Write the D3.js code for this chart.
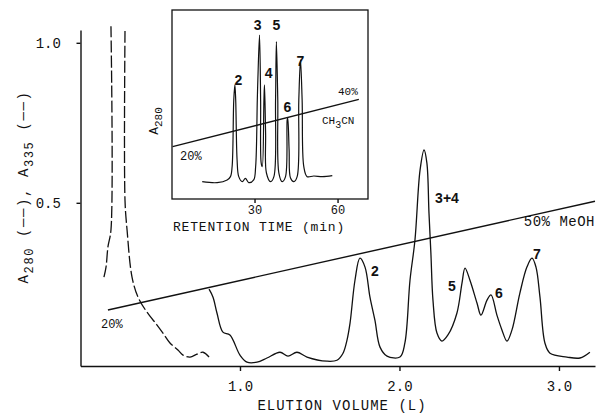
<!DOCTYPE html>
<html>
<head>
<meta charset="utf-8">
<script src="https://cdn.jsdelivr.net/npm/d3@7"></script>
<style>
  body { margin: 0; background: #fff; }
  svg { display: block; }
  .mono { font-family: 'Liberation Mono', 'DejaVu Sans Mono', monospace; fill: #111; }
  .peak { font-family: 'Liberation Sans', Arial, sans-serif; font-weight: bold; fill: #111; }
  .axis path, .axis line { stroke: #111; stroke-width: 1.4; }
</style>
</head>
<body>
<svg width="599" height="415"></svg>
<script>
// Main chromatogram, A280 (solid) - elution volume (L) vs absorbance
const a280Vol = [0.806, 0.831, 0.856, 0.893, 0.937, 1.0, 1.044, 1.107, 1.169, 1.251, 1.301, 1.357, 1.42, 1.545,
  1.608, 1.646, 1.671, 1.69, 1.721, 1.752, 1.784, 1.815, 1.846, 1.878, 1.922, 2.003, 2.034, 2.066, 2.097,
  2.129, 2.154, 2.172, 2.185, 2.197, 2.21, 2.235, 2.266, 2.304, 2.36, 2.392, 2.411, 2.442, 2.486, 2.511,
  2.549, 2.574, 2.611, 2.643, 2.674, 2.705, 2.755, 2.799, 2.831, 2.856, 2.881, 2.912, 2.944, 3.05, 3.132, 3.194];
const a280Abs = [0.23, 0.205, 0.155, 0.096, 0.087, 0.024, 0.002, 0.002, 0.015, 0.033, 0.021, 0.033, 0.018, 0.005,
  0.008, 0.03, 0.071, 0.124, 0.258, 0.327, 0.299, 0.205, 0.133, 0.049, 0.021, 0.018, 0.062, 0.258, 0.383,
  0.602, 0.665, 0.624, 0.468, 0.343, 0.196, 0.093, 0.068, 0.087, 0.155, 0.249, 0.296, 0.258, 0.187, 0.149,
  0.196, 0.212, 0.149, 0.102, 0.068, 0.102, 0.218, 0.299, 0.327, 0.299, 0.205, 0.062, 0.03, 0.018, 0.015, 0.033];

// A335 (dashed), goes off scale; null = break at the top
const a335Vol = [0.147, 0.16, 0.172, 0.191, 0.191, null, 0.279, 0.279, 0.292, 0.323, 0.361, 0.417, 0.48, 0.517,
  0.561, 0.611, 0.643, 0.687, 0.73, 0.768, 0.806];
const a335Abs = [0.268, 0.299, 0.362, 0.415, 1.052, null, 1.037, 0.508, 0.415, 0.268, 0.205, 0.158, 0.118, 0.093,
  0.062, 0.04, 0.024, 0.018, 0.027, 0.033, 0.018];

// MeOH gradient line (20% -> 50%)
const gradVol = [0.172, 3.226];
const gradLevel = [0.165, 0.505];

const peakNames = ['2', '3+4', '5', '6', '7'];
const peakVol = [1.846, 2.298, 2.329, 2.624, 2.862];
const peakLevel = [0.271, 0.499, 0.224, 0.202, 0.324];

const xTicks = [1.0, 2.0, 3.0];
const yTicks = [0.5, 1.0];

// Inset HPLC trace - retention time (min)
const hplcTime = [11.1, 16.5, 20.1, 21.3, 21.9, 22.5, 22.9, 23.2, 23.7, 24.3, 25.6, 26.7, 27.9, 29.7, 30.4,
  31.0, 31.2, 31.8, 32.2, 32.4, 32.8, 33.4, 33.6, 34.0, 34.3, 35.8, 37.0, 37.6, 37.9, 38.4, 38.8, 40.0,
  41.2, 41.8, 42.0, 42.5, 43.0, 44.2, 45.4, 46.0, 46.6, 47.2, 47.8, 49.0, 51.4, 54.5, 58.1];
const hplcAbs = [0.11, 0.104, 0.121, 0.142, 0.205, 0.629, 0.724, 0.629, 0.248, 0.142, 0.11, 0.131, 0.104, 0.121, 0.205,
  0.629, 0.756, 1.041, 0.629, 0.229, 0.205, 0.629, 0.724, 0.419, 0.165, 0.11, 0.142, 0.629, 0.999, 0.629, 0.165, 0.11,
  0.142, 0.502, 0.514, 0.311, 0.133, 0.11, 0.142, 0.629, 0.883, 0.629, 0.205, 0.142, 0.146, 0.142, 0.148];

const hplcGradTime = [0.4, 67.7];
const hplcGradLevel = [0.332, 0.633];

const hplcPeakNames = ['2', '3', '4', '5', '6', '7'];
const hplcPeakTime = [24.2, 31.1, 35.1, 37.9, 41.9, 46.6];
const hplcPeakLevel = [0.724, 1.073, 0.768, 1.073, 0.552, 0.844];

const hplcTicks = [30, 60];

const svg = d3.select('svg');

// ---------- main chart ----------
const xScale = d3.scaleLinear().domain([0, 3.226]).range([80.5, 595]);
const yScale = d3.scaleLinear().domain([-0.01, 1.04]).range([366, 30]);

const toPoints = (xs, ys) => xs.map((x, i) => [x, ys[i]]);

const line = d3
  .line()
  .defined((d) => d[0] !== null)
  .x((d) => xScale(d[0]))
  .y((d) => yScale(d[1]))
  .curve(d3.curveCatmullRom.alpha(0.5));

svg.append('path')
  .attr('d', line(toPoints(a280Vol, a280Abs)))
  .attr('fill', 'none')
  .attr('stroke', '#111')
  .attr('stroke-width', 1.3);

svg.append('path')
  .attr('d', line(toPoints(a335Vol, a335Abs)))
  .attr('fill', 'none')
  .attr('stroke', '#111')
  .attr('stroke-width', 1.3)
  .attr('stroke-dasharray', '12,3');

svg.append('path')
  .attr('d', d3.line().x((d) => xScale(d[0])).y((d) => yScale(d[1]))(toPoints(gradVol, gradLevel)))
  .attr('stroke', '#111')
  .attr('stroke-width', 1.4);

// axes
svg.append('g')
  .attr('class', 'axis')
  .attr('transform', 'translate(0,366)')
  .call(d3.axisBottom(xScale).tickValues(xTicks).tickSize(5).tickSizeOuter(0).tickFormat(d3.format('.1f')))
  .call((g) => g.selectAll('text').attr('class', 'mono').attr('font-size', 14).attr('dy', '1.2em'));

svg.append('g')
  .attr('class', 'axis')
  .attr('transform', 'translate(80.5,0)')
  .call(d3.axisLeft(yScale).tickValues(yTicks).tickSize(4).tickSizeOuter(0).tickFormat(d3.format('.1f')))
  .call((g) => g.selectAll('text').attr('class', 'mono').attr('font-size', 14).attr('dx', '-0.9em'));

svg.selectAll('.axis text').attr('font-family', null);

svg.append('text')
  .attr('class', 'mono')
  .attr('x', 342)
  .attr('y', 410)
  .attr('text-anchor', 'middle')
  .attr('font-size', 14)
  .attr('letter-spacing', 1)
  .text('ELUTION VOLUME (L)');

const yLab = svg.append('text')
  .attr('class', 'mono')
  .attr('transform', 'translate(28,187) rotate(-90)')
  .attr('text-anchor', 'middle')
  .attr('font-size', 14)
  .attr('letter-spacing', 1.6);
yLab.append('tspan').text('A');
yLab.append('tspan').attr('dy', 5).attr('font-size', 12).text('280');
yLab.append('tspan').attr('dy', -5).text(' (\u2500\u2500), A');
yLab.append('tspan').attr('dy', 5).attr('font-size', 12).text('335');
yLab.append('tspan').attr('dy', -5).text(' (\u2500\u2500)');

svg.append('text')
  .attr('class', 'mono')
  .attr('x', 101)
  .attr('y', 328)
  .attr('font-size', 12)
  .text('20%');

svg.append('text')
  .attr('class', 'mono')
  .attr('x', 595)
  .attr('y', 226)
  .attr('text-anchor', 'end')
  .attr('font-size', 14)
  .attr('letter-spacing', 0.5)
  .text('50% MeOH');

svg.selectAll('.peak-main')
  .data(peakNames)
  .enter()
  .append('text')
  .attr('class', 'peak')
  .attr('x', (d, i) => xScale(peakVol[i]))
  .attr('y', (d, i) => yScale(peakLevel[i]))
  .attr('text-anchor', 'middle')
  .attr('font-size', 14)
  .text((d) => d);

// ---------- inset ----------
const ixScale = d3.scaleLinear().domain([0, 71]).range([171.5, 368]);
const iyScale = d3.scaleLinear().domain([0, 1.2]).range([199, 10]);

const inset = svg.append('g');

inset.append('rect')
  .attr('x', 172)
  .attr('y', 10)
  .attr('width', 196)
  .attr('height', 189)
  .attr('fill', '#fff')
  .attr('stroke', '#111')
  .attr('stroke-width', 1.3);

const iline = d3
  .line()
  .x((d) => ixScale(d[0]))
  .y((d) => iyScale(d[1]))
  .curve(d3.curveCatmullRom.alpha(0.5));

inset.append('path')
  .attr('d', iline(toPoints(hplcTime, hplcAbs)))
  .attr('fill', 'none')
  .attr('stroke', '#111')
  .attr('stroke-width', 1.2);

inset.append('path')
  .attr('d', d3.line().x((d) => ixScale(d[0])).y((d) => iyScale(d[1]))(toPoints(hplcGradTime, hplcGradLevel)))
  .attr('stroke', '#111')
  .attr('stroke-width', 1.3);

inset.append('g')
  .attr('class', 'axis')
  .attr('transform', 'translate(0,199)')
  .call(d3.axisBottom(ixScale).tickValues(hplcTicks).tickSize(4).tickSizeOuter(0))
  .call((g) => g.select('.domain').remove())
  .call((g) => g.selectAll('text').attr('class', 'mono').attr('font-size', 12).attr('font-family', null).attr('dy', '0.7em'));

inset.append('text')
  .attr('class', 'mono')
  .attr('x', 173)
  .attr('y', 231)
  .attr('font-size', 13)
  .attr('letter-spacing', 0.8)
  .text('RETENTION TIME (min)');

const iyLab = inset.append('text')
  .attr('class', 'mono')
  .attr('transform', 'translate(158,121) rotate(-90)')
  .attr('text-anchor', 'middle')
  .attr('font-size', 13);
iyLab.append('tspan').text('A');
iyLab.append('tspan').attr('dy', 4).attr('font-size', 11).text('280');

inset.append('text')
  .attr('class', 'mono')
  .attr('x', 180)
  .attr('y', 160)
  .attr('font-size', 12)
  .text('20%');

inset.append('text')
  .attr('class', 'mono')
  .attr('x', 338)
  .attr('y', 95)
  .attr('font-size', 11)
  .text('40%');

const ch = inset.append('text')
  .attr('class', 'mono')
  .attr('x', 322)
  .attr('y', 124)
  .attr('font-size', 11);
ch.append('tspan').text('CH');
ch.append('tspan').attr('dy', 4).attr('font-size', 10).text('3');
ch.append('tspan').attr('dy', -4).text('CN');

inset.selectAll('.peak-inset')
  .data(hplcPeakNames)
  .enter()
  .append('text')
  .attr('class', 'peak')
  .attr('x', (d, i) => ixScale(hplcPeakTime[i]))
  .attr('y', (d, i) => iyScale(hplcPeakLevel[i]))
  .attr('text-anchor', 'middle')
  .attr('font-size', 14)
  .text((d) => d);
</script>
</body>
</html>
